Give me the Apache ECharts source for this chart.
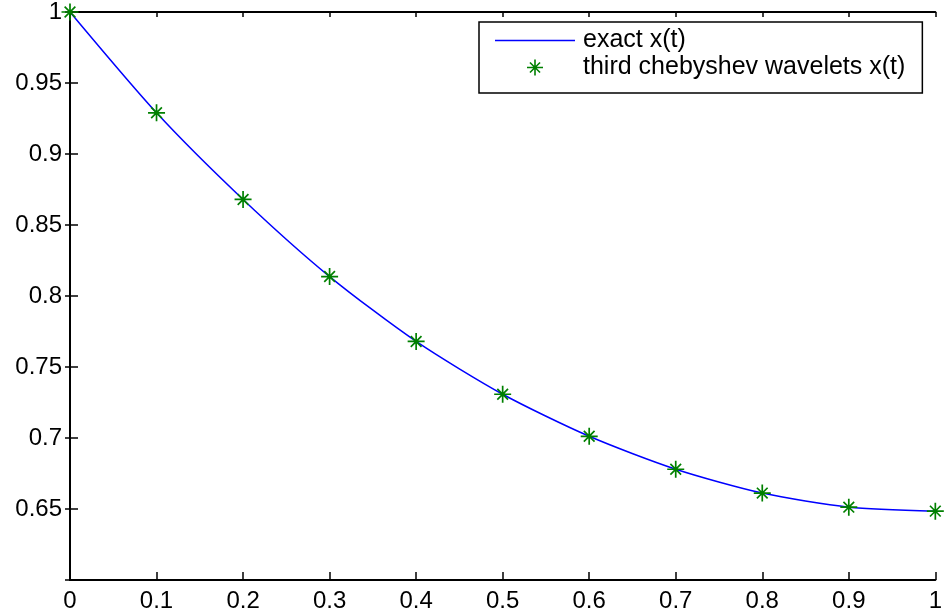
<!DOCTYPE html>
<html>
<head>
<meta charset="utf-8">
<script src="https://cdn.jsdelivr.net/npm/echarts@6/dist/echarts.min.js"></script>
<style>html,body{margin:0;padding:0;background:#fff}#c{width:945px;height:615px}</style>
</head>
<body>
<div id="c"></div>
<script>
var tValues = [0, 0.1, 0.2, 0.3, 0.4, 0.5, 0.6, 0.7, 0.8, 0.9, 1.0];
var exactX = [1.0, 0.929, 0.868, 0.8137, 0.768, 0.7308, 0.7012, 0.678, 0.6612, 0.6513, 0.6485];
var waveletX = [1.0, 0.929, 0.868, 0.8137, 0.768, 0.7308, 0.7012, 0.678, 0.6612, 0.6513, 0.6485];
var seriesNames = ['exact x(t)', 'third chebyshev wavelets x(t)'];

var star = 'path://M0 9L20 9L20 11L0 11Z M9 0L11 0L11 20L9 20Z M3 4.4L4.4 3L17 15.6L15.6 17Z M15.6 3L17 4.4L4.4 17L3 15.6Z';
var font = 'Liberation Sans, Arial, sans-serif';

var chart = echarts.init(document.getElementById('c'));
var axisLine = {show: true, lineStyle: {color: '#000', width: 2}};
chart.setOption({
  animation: false,
  backgroundColor: '#fff',
  grid: {left: 70, right: 9, top: 11, bottom: 35, containLabel: false},
  legend: {
    orient: 'vertical', left: 479, top: 22,
    padding: [6, 17, 13, 16],
    itemGap: 2, itemWidth: 80, itemHeight: 16,
    borderColor: '#000', borderWidth: 1.5, backgroundColor: '#fff',
    symbolKeepAspect: true,
    textStyle: {fontFamily: font, fontSize: 25, color: '#000', padding: [0, 0, 0, 3], lineHeight: 25},
    data: [{name: seriesNames[0], icon: 'path://M0 0L80 0L80 1.5L0 1.5Z'}, {name: seriesNames[1], icon: star}]
  },
  xAxis: [{
    type: 'value', min: 0, max: 1, interval: 0.1, position: 'bottom',
    axisLine: axisLine, splitLine: {show: false},
    axisTick: {inside: true, length: 8, lineStyle: {color: '#000', width: 1.5}},
    axisLabel: {fontFamily: font, fontSize: 24, color: '#000', margin: 9,
      formatter: function (v) { return String(+v.toFixed(1)); }}
  }, {
    type: 'value', min: 0, max: 1, interval: 0.1, position: 'top',
    axisLine: axisLine, splitLine: {show: false},
    axisTick: {inside: true, length: 5, lineStyle: {color: '#000', width: 1.5}},
    axisLabel: {show: false}
  }],
  yAxis: [{
    type: 'value', min: 0.6, max: 1, interval: 0.05, position: 'left',
    axisLine: axisLine, splitLine: {show: false},
    axisTick: {inside: true, length: 8, lineStyle: {color: '#000', width: 1.5}},
    axisLabel: {fontFamily: font, fontSize: 24, color: '#000', margin: 8,
      formatter: function (v) { return Math.abs(v - 0.6) < 1e-9 ? '' : String(+v.toFixed(2)); }}
  }, {
    type: 'value', min: 0.6, max: 1, interval: 0.05, position: 'right',
    axisLine: axisLine, splitLine: {show: false},
    axisTick: {inside: true, length: 5, lineStyle: {color: '#000', width: 1.5}},
    axisLabel: {show: false}
  }],
  series: [{
    name: seriesNames[0], type: 'line', xAxisIndex: 0, yAxisIndex: 0,
    data: tValues.map(function (t, i) { return [t, exactX[i]]; }),
    smooth: 0.25, showSymbol: false, symbol: 'none',
    lineStyle: {color: '#0000ff', width: 1.5}, itemStyle: {color: '#0000ff'}, z: 2
  }, {
    name: seriesNames[1], type: 'scatter', xAxisIndex: 0, yAxisIndex: 0,
    data: tValues.map(function (t, i) { return [t, waveletX[i]]; }),
    symbol: star, symbolSize: 17, itemStyle: {color: '#008000', opacity: 1}, z: 3
  }]
});
</script>
</body>
</html>
